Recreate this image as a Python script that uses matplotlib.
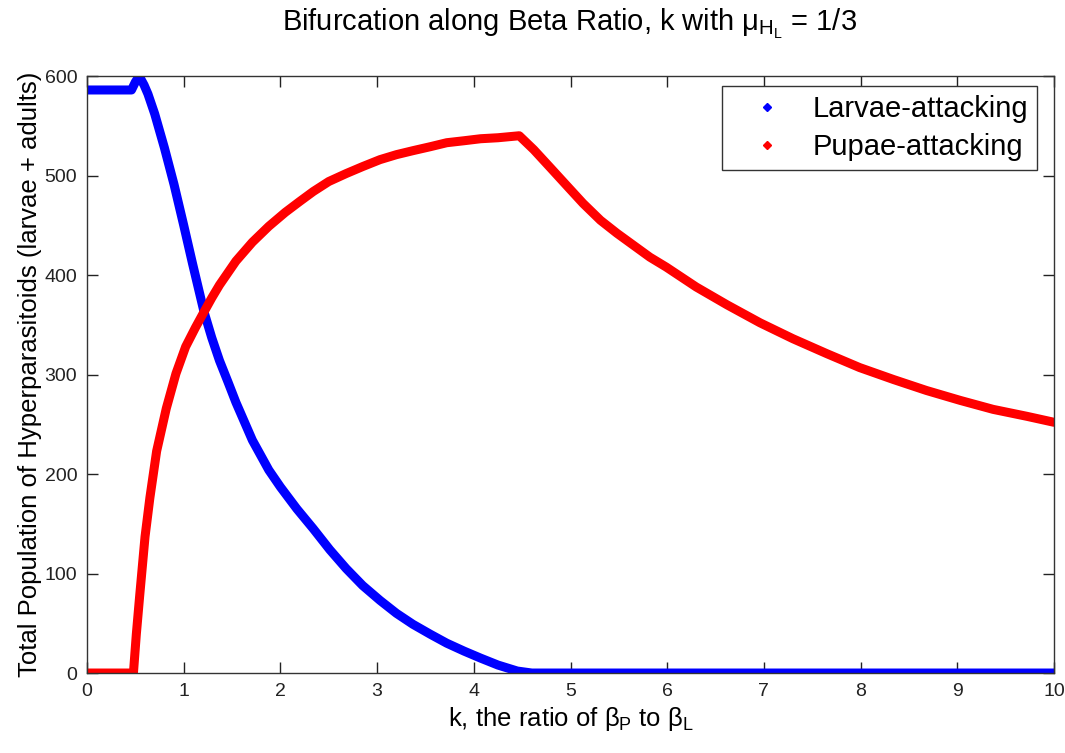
import numpy as np
import matplotlib.pyplot as plt
from matplotlib.lines import Line2D

plt.rcParams['font.family'] = ['Liberation Sans', 'DejaVu Sans']
plt.rcParams['mathtext.fontset'] = 'custom'
plt.rcParams['mathtext.rm'] = 'Liberation Sans'
plt.rcParams['mathtext.it'] = 'Liberation Sans'

# larvae-attacking hyperparasitoids
k_larv = [0, 0.46, 0.50, 0.54, 0.59, 0.63, 0.70, 0.80, 0.90, 1.0, 1.09, 1.21,
          1.29, 1.37, 1.46, 1.54, 1.71, 1.88, 2.0, 2.17, 2.34, 2.51, 2.68,
          2.85, 3.03, 3.2, 3.37, 3.55, 3.72, 3.9, 4.07, 4.25, 4.45, 4.6, 10]
pop_larv = [586, 586, 594, 600, 591, 582, 562, 528, 491, 450, 412, 363,
            337, 314, 292, 272, 234, 204, 187, 165, 145, 124, 105,
            88, 73, 60, 49, 39, 30, 22, 15, 8, 2, 0, 0]

# pupae-attacking hyperparasitoids
k_pupa = [0, 0.48, 0.51, 0.545, 0.60, 0.65, 0.72, 0.82, 0.92, 1.02, 1.12, 1.21,
          1.29, 1.37, 1.54, 1.71, 1.88, 2.05, 2.2, 2.34, 2.5, 2.68, 2.85,
          3.03, 3.2, 3.37, 3.55, 3.72, 3.9, 4.07, 4.25, 4.47,
          4.62, 4.80, 4.96, 5.13, 5.31, 5.48, 5.65, 5.82, 5.99, 6.30, 6.62,
          6.96, 7.30, 7.65, 7.99, 8.34, 8.68, 9.03, 9.37, 9.72, 10]
pop_pupa = [0, 0, 39, 78, 137, 176, 223, 266, 301, 328, 347, 363,
            377, 390, 414, 433, 449, 463, 474, 484, 494, 502, 509,
            516, 521, 525, 529, 533, 535, 537, 538, 540,
            526, 507, 490, 472, 455, 442, 430, 418, 408, 388, 370,
            352, 336, 321, 307, 295, 284, 274, 265, 258, 252]

fig = plt.figure(figsize=(10.65, 7.53), dpi=100)
ax = fig.add_axes([0.0817, 0.1062, 0.908, 0.7928])

ax.plot(k_larv, pop_larv, '-', color='blue', lw=6.5, solid_joinstyle='round',
        solid_capstyle='round')
ax.plot(k_pupa, pop_pupa, '-', color='red', lw=6.5, solid_joinstyle='round',
        solid_capstyle='round')

ax.set_xlim(0, 10)
ax.set_ylim(0, 600)
ax.set_xticks(range(0, 11))
ax.set_yticks(range(0, 601, 100))
ax.tick_params(direction='in', length=8, width=1, top=True, right=True,
               labelsize=14, pad=7, colors='#222222')
for s in ax.spines.values():
    s.set_linewidth(1)
    s.set_color('#333333')

fig.text(0.535, 1 - 31 / 753,
         r'Bifurcation along Beta Ratio, k with $\mu_{H_L}$ = 1/3',
         fontsize=21, ha='center', va='baseline')
ax.set_xlabel(r'k, the ratio of $\beta_P$ to $\beta_L$', fontsize=18.5,
              labelpad=4)
ax.set_ylabel('Total Population of Hyperparasitoids (larvae + adults)',
              fontsize=18.5, labelpad=2)

handles = [Line2D([], [], ls='none', marker='D', ms=4, color='blue'),
           Line2D([], [], ls='none', marker='D', ms=4, color='red')]
leg = ax.legend(handles, ['Larvae-attacking', 'Pupae-attacking'],
                loc='upper right', fontsize=21, fancybox=False,
                edgecolor='#333333', framealpha=1, handletextpad=0.3,
                borderpad=0.3, labelspacing=0.35, handlelength=2.5,
                borderaxespad=0, bbox_to_anchor=(0.982, 0.983))
leg.get_frame().set_linewidth(1)

fig.savefig('out.png', dpi=100)
